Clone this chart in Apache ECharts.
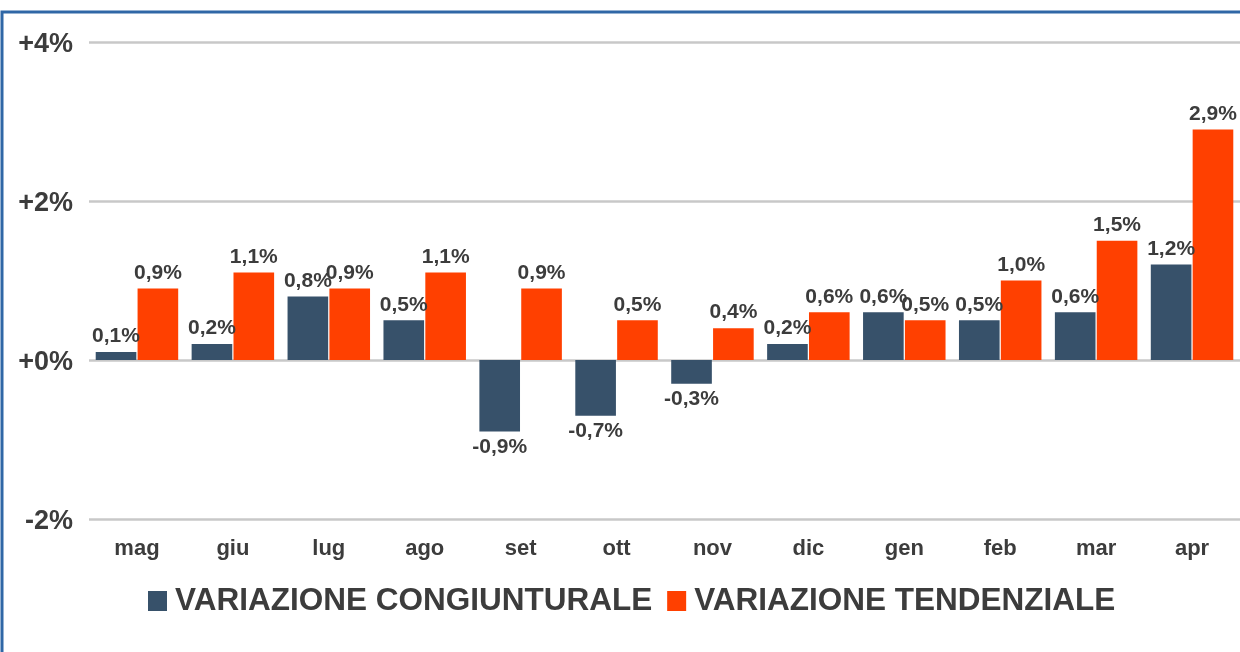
<!DOCTYPE html>
<html>
<head>
<meta charset="utf-8">
<script src="https://cdn.jsdelivr.net/npm/echarts@6/dist/echarts.min.js"></script>
<style>
html,body{margin:0;padding:0;background:#fff;}
#c{width:1240px;height:652px;}
</style>
</head>
<body>
<div id="c"></div>
<script>
const categories = ['mag','giu','lug','ago','set','ott','nov','dic','gen','feb','mar','apr'];
const congiunturale = [0.1, 0.2, 0.8, 0.5, -0.9, -0.7, -0.3, 0.2, 0.6, 0.5, 0.6, 1.2];
const tendenziale = [0.9, 1.1, 0.9, 1.1, 0.9, 0.5, 0.4, 0.6, 0.5, 1.0, 1.5, 2.9];
const seriesNames = ['VARIAZIONE CONGIUNTURALE', 'VARIAZIONE TENDENZIALE'];
const yTicks = {min: -2, max: 4, interval: 2};

const FONT = '"Liberation Sans", Arial, sans-serif';
const TXT = '#3c3c3c';
const fmt = v => v.toFixed(1).replace('.', ',') + '%';
const toItems = arr => arr.map(v => ({value: v, label: {position: v < 0 ? 'bottom' : 'top'}}));

const chart = echarts.init(document.getElementById('c'));
const labelStyle = {
  show: true, distance: 5, color: TXT, fontFamily: FONT, fontWeight: 'bold', fontSize: 21,
  formatter: p => fmt(p.value)
};
chart.setOption({
  animation: false,
  backgroundColor: '#fff',
  grid: {left: 89, right: 0, top: 42, bottom: 133, containLabel: false},
  legend: {
    left: 148, top: 585, padding: 0, itemWidth: 19, itemHeight: 20, itemGap: 15,
    icon: 'rect',
    formatter: n => '{b|' + n + '}',
    textStyle: {color: TXT, fontFamily: FONT, fontWeight: 'bold', fontSize: 31.5,
      rich: {b: {color: TXT, fontFamily: FONT, fontWeight: 'bold', fontSize: 31.5, padding: [0, 0, 0, 3]}}},
    data: seriesNames
  },
  xAxis: {
    type: 'category', data: categories,
    axisLine: {show: false, onZero: false}, axisTick: {show: false},
    axisLabel: {color: TXT, fontFamily: FONT, fontWeight: 'bold', fontSize: 22, margin: 19}
  },
  yAxis: {
    type: 'value', min: yTicks.min, max: yTicks.max, interval: yTicks.interval,
    axisLine: {show: false}, axisTick: {show: false},
    axisLabel: {color: TXT, fontFamily: FONT, fontWeight: 'bold', fontSize: 27, margin: 16,
      formatter: v => '{a|' + (v < 0 ? '' : '+') + v + '%}',
      rich: {a: {color: TXT, fontFamily: FONT, fontWeight: 'bold', fontSize: 27, padding: [5, 0, 0, 0]}}},
    splitLine: {lineStyle: {color: '#c8c8c8', width: 2.5}}
  },
  series: [
    {name: seriesNames[0], type: 'bar', data: toItems(congiunturale), barGap: '3%', barCategoryGap: '14%',
      itemStyle: {color: '#37516A'}, label: labelStyle},
    {name: seriesNames[1], type: 'bar', data: toItems(tendenziale),
      itemStyle: {color: '#FF4000'}, label: labelStyle}
  ],
  graphic: [
    {type: 'polyline', shape: {points: [[2, 652], [2, 12], [1240, 12]]}, style: {stroke: '#2F67A6', lineWidth: 3, fill: null}, z: 100}
  ]
});
</script>
</body>
</html>
